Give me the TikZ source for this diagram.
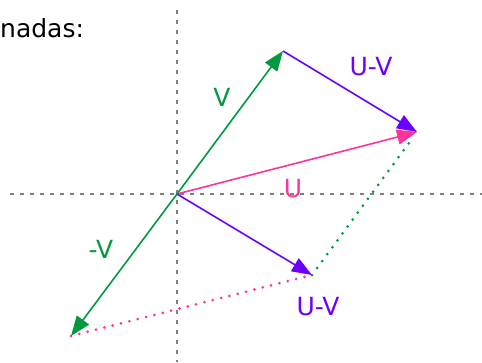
\documentclass[tikz,border=0pt]{standalone}
\usepackage{fontspec}
\setmainfont{DejaVu Sans}
\usetikzlibrary{arrows.meta}
\definecolor{vgreen}{HTML}{009A3E}
\definecolor{uvviolet}{HTML}{6A00FF}
\definecolor{upink}{HTML}{FF3399}
\begin{document}
\begin{tikzpicture}[
    x=1pt, y=-1pt,
    axis/.style={draw=gray, line width=1.3pt, dash pattern=on 4pt off 6pt},
    vec/.style={-{Triangle[length=20pt, width=15pt]}, line width=1.6pt},
    aux/.style={line width=3pt, dash pattern=on 0pt off 8.6pt, line cap=round},
    lbl/.style={font=\fontsize{25}{29}\selectfont, inner sep=0pt}
]
\useasboundingbox (0,0) rectangle (482,362);

% Points
\coordinate (O)  at (177,194);
\coordinate (V)  at (283,51);
\coordinate (mV) at (71,336);
\coordinate (U)  at (417,132);
\coordinate (D)  at (312,275);

% Axes
\draw[axis] (10,194) -- (482,194);
\draw[axis] (177,10) -- (177,362);

% Dotted helpers
\draw[aux, upink] (mV) -- (D);
\draw[aux, vgreen, shorten >=6pt] (D) -- (U);

% Vectors
\draw[vec, vgreen] (O) -- (V);
\draw[vec, vgreen] (O) -- (mV);
\draw[vec, upink] (O) -- (U);
\draw[vec, uvviolet] (O) -- (D);
\draw[vec, uvviolet] (V) -- (U);

% Labels
\node[lbl, anchor=base west] (title) at (0,37) {nadas:};
\node[lbl, text=vgreen]    (lV)   at (222,97)  {V};
\node[lbl, text=vgreen]    (lmV)  at (101,249) {-V};
\node[lbl, text=upink]     (lU)   at (293,189) {U};
\node[lbl, text=uvviolet]  (lUV)  at (371,67)  {U-V};
\node[lbl, text=uvviolet]  (lD)   at (318,307) {U-V};

\end{tikzpicture}
\end{document}
